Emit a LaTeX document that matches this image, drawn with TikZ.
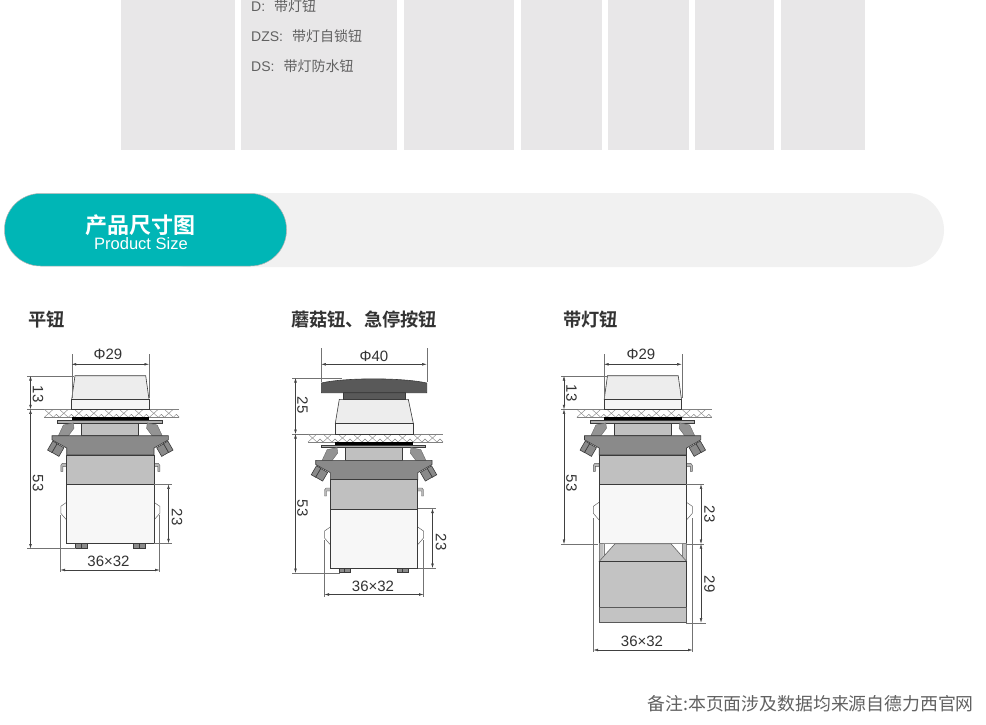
\documentclass[tikz,border=0pt]{standalone}
\usepackage{fontspec}
\setmainfont{Liberation Sans}
\newfontfamily\cjk{Noto Sans CJK SC}
\newfontfamily\cjkb{Noto Sans CJK SC Bold}
\usetikzlibrary{arrows.meta}
\definecolor{panelgrey}{HTML}{E8E7E8}
\definecolor{bandgrey}{HTML}{F1F1F1}
\definecolor{tealpill}{HTML}{00B6B6}
\definecolor{bodygrey}{HTML}{C0C0C0}
\definecolor{collargrey}{HTML}{8A8A8A}
\definecolor{linegrey}{HTML}{3A3A3A}
\tikzset{
  >={Latex[length=4.5pt,width=2.6pt]},
  part/.style={draw=linegrey,line width=0.6pt},
  dimline/.style={<->,line width=0.4pt,draw=black!75},
  extline/.style={line width=0.4pt,draw=black!55},
  dimtext/.style={font=\fontsize{15}{15}\selectfont,text=black!80,inner sep=0pt},
  rowtext/.style={anchor=west,inner sep=0pt,text=black!62,font=\fontsize{14}{14}\selectfont},
  heading/.style={font=\cjkb\fontsize{18.25}{18.25}\selectfont,text=black!80,anchor=west,inner sep=0pt},
  pics/body/.style={code={
    % panel
    \draw[black!50,line width=0.5pt] (-66,0) -- (69,0) (-66,8) -- (69,8);
    \foreach \k in {0,...,8}{
      \draw[black!50,line width=0.4pt] (-66+15*\k,0) -- (-57+15*\k,8) -- (-54+15*\k,5) -- (-51+15*\k,8);
      \draw[black!50,line width=0.4pt] (-66+15*\k,8) -- (-57+15*\k,0);
    }
    % seal and flange
    \fill[black] (-38.6,8) rectangle (38.7,10.8);
    \fill[part,fill=collargrey!70] (-53,10.8) rectangle (51.7,13.6);
    \fill[part,fill=bodygrey] (-28.6,13.6) rectangle (28,26.4);
    % clips and screws
    \foreach \s in {-1,1}{
      \begin{scope}[xscale=\s]
        \fill[collargrey!92,draw=black!60,line width=0.4pt] (52,26.6) -- (46.9,15.7) -- (37,13.6) -- (36.3,19) -- (42,26.6) -- cycle;
        \begin{scope}[shift={(54.5,39.5)},rotate=30]
          \fill[part,fill=collargrey] (-6.5,-5) rectangle (1.5,5);
          \fill[part,fill=collargrey] (1.5,-5.2) rectangle (6.5,5.2);
        \end{scope}
      \end{scope}
    }
    % collar
    \fill[part,fill=collargrey] (-58.3,26.4) -- (58,26.4) -- (58,30.5) -- (43.7,38.7) -- (43.7,45.7)
      -- (-43.6,45.7) -- (-43.6,38.7) -- (-58.3,30.5) -- cycle;
    % hooks
    \foreach \s in {-1,1}{
      \fill[collargrey!60,draw=black!65,line width=0.4pt,xscale=\s] (43.7,54) -- (48,54) -- (49.5,56) -- (49.5,62) -- (47.5,62) -- (47.5,57) -- (43.7,57) -- cycle;
    }
    % tabs
    \foreach \s in {-1,1}{
      \draw[draw=black!60,line width=0.5pt,xscale=\s] (43.7,93) -- (49.5,97) -- (49.5,104) -- (43.7,110.7);
    }
    % case
    \fill[part,fill=bodygrey] (-43.6,45.7) rectangle (43.7,75);
    \fill[part,fill=black!3] (-43.6,75) rectangle (43.7,134);
    % terminals
    \foreach \a in {-35,23}{
      \fill[part,fill=collargrey] (\a,134) rectangle (\a+11.5,138.7);
      \draw[part] (\a+5.5,134) -- (\a+5.5,138.7);
    }
  }},
  pics/capflat/.style={code={
    \fill[part,fill=black!7] (-35.3,-33.6) -- (35.4,-33.6) -- (38.7,-10) -- (-38.6,-10) -- cycle;
    \fill[part,fill=black!4] (-38.6,-10) rectangle (38.7,0);
  }}
}

\begin{document}
\begin{tikzpicture}[x=1pt,y=-1pt]
\useasboundingbox (0,0) rectangle (986,725);
\fill[white] (0,0) rectangle (986,725);

% ---------- Table remains ----------
\foreach \a/\b in {121/235, 241/397, 404/514, 521/602, 608/689, 695/774, 781/865}{
  \fill[panelgrey] (\a,0) rectangle (\b,150);
}
\node[rowtext] (rowd) at (251,6) {D:\hspace{9pt}{\cjk 带灯钮}};
\node[rowtext] (rowdzs) at (251,36) {DZS:\hspace{9pt}{\cjk 带灯自锁钮}};
\node[rowtext] (rowds) at (251,66) {DS:\hspace{9pt}{\cjk 带灯防水钮}};

% ---------- Banner ----------
\fill[bandgrey,rounded corners=37pt] (150,193) rectangle (944,267);
\fill[tealpill,draw=black!30,line width=0.5pt,rounded corners=36pt] (4.5,193.5) rectangle (286.5,266);
\node[text=white,inner sep=0pt,font=\cjkb\fontsize{22}{22}\selectfont] (bannercn) at (140,225) {产品尺寸图};
\node[text=white,inner sep=0pt,font=\fontsize{16.5}{16.5}\selectfont] (banneren) at (141,244) {Product Size};

% ---------- Headings ----------
\node[heading] (headflat) at (28,320) {平钮};
\node[heading] (headstop) at (291,320) {蘑菇钮、急停按钮};
\node[heading] (headlamp) at (563,320) {带灯钮};

% ---------- Flat button ----------
\pic at (110.3,409.3) {body};
\pic at (110.3,409.3) {capflat};
\draw[extline] (71.7,354) -- (71.7,398) (149,354) -- (149,398);
\draw[dimline] (71.7,364.3) -- (149,364.3);
\node[dimtext] (flatdia) at (108,354) {Φ29};
\draw[extline] (27,376) -- (74,376) (27,409.3) -- (44,409.3);
\draw[extline] (27,548.5) -- (76,548.5) (154,484.3) -- (172,484.3) (154,543.3) -- (172,543.3);
\draw[dimline] (30.5,376) -- (30.5,409.3);
\draw[dimline] (30.5,409.3) -- (30.5,548.5);
\node[dimtext,rotate=-90] (flatcap) at (38,394) {13};
\node[dimtext,rotate=-90] (flatbody) at (38,483) {53};
\draw[dimline] (168.5,484.3) -- (168.5,543.3);
\node[dimtext,rotate=-90] (flatwhite) at (177,517) {23};
\draw[extline] (60.5,515) -- (60.5,572) (159.5,515) -- (159.5,572);
\draw[dimline] (60.5,570) -- (159.5,570);
\node[dimtext] (flatsize) at (108.5,561) {36×32};

% ---------- Mushroom button ----------
\pic at (374,434) {body};
\fill[part,fill=black!7] (339.3,399.3) -- (408.3,399.3) -- (413.3,423.3) -- (335.3,423.3) -- cycle;
\fill[part,fill=black!4] (335.3,423.3) rectangle (413.3,434);
\fill[part,fill=black!65] (343.3,392.7) rectangle (405,399.3);
\fill[part,fill=black!65] (321.3,392.7) -- (321.3,383) .. controls (345,377.5) and (402,377.5) .. (426.7,383) -- (426.7,392.7) -- cycle;
\draw[extline] (321.3,348) -- (321.3,382) (426.7,348) -- (426.7,382);
\draw[dimline] (321.3,364.3) -- (426.7,364.3);
\node[dimtext] (stopdia) at (374,356) {Φ40};
\draw[extline] (292,378) -- (342,378) (292,434) -- (308,434);
\draw[extline] (292,573) -- (340,573) (418,508.5) -- (436,508.5) (418,568) -- (436,568);
\draw[dimline] (295.5,378) -- (295.5,434);
\draw[dimline] (295.5,434) -- (295.5,573);
\node[dimtext,rotate=-90] (stopcap) at (302.5,405) {25};
\node[dimtext,rotate=-90] (stopbody) at (302.5,508) {53};
\draw[dimline] (432.5,508.5) -- (432.5,568);
\node[dimtext,rotate=-90] (stopwhite) at (441,542) {23};
\draw[extline] (324.5,540) -- (324.5,597) (423.5,540) -- (423.5,597);
\draw[dimline] (324.5,594.5) -- (423.5,594.5);
\node[dimtext] (stopsize) at (373,586) {36×32};

% ---------- Lamp button ----------
\pic at (642.8,409.3) {body};
\pic at (642.8,409.3) {capflat};
% lamp housing
\fill[part,draw=black!50,fill=bodygrey] (599.3,543.3) rectangle (686.5,561.3);
\fill[white] (603.7,543.8) -- (615,543.8) -- (603.7,556.7) -- cycle;
\fill[white] (682.3,543.8) -- (671,543.8) -- (682.3,556.7) -- cycle;
\draw[draw=black!50,line width=0.4pt] (603.7,543.8) -- (603.7,556.7) (682.3,543.8) -- (682.3,556.7);
\fill[part,draw=black!60,fill=bodygrey!95] (599.3,561.3) -- (615,543.8) -- (671,543.8) -- (686.5,561.3) -- cycle;
\fill[part,fill=bodygrey!95] (599.3,561.3) rectangle (686.5,607.3);
\fill[part,draw=black!65,fill=bodygrey!95] (599.3,607.3) rectangle (686.5,622.5);
\draw[extline] (604,354) -- (604,398) (681.7,354) -- (681.7,398);
\draw[dimline] (604,364.3) -- (681.7,364.3);
\node[dimtext] (lampdia) at (641,354) {Φ29};
\draw[extline] (561,376) -- (607,376) (561,409.3) -- (578,409.3);
\draw[extline] (561,544) -- (598,544) (686,484.3) -- (704,484.3) (686,544) -- (704,544) (686,622.7) -- (706,622.7);
\draw[dimline] (564,376) -- (564,409.3);
\draw[dimline] (564,409.3) -- (564,544);
\node[dimtext,rotate=-90] (lampcap) at (571.5,393) {13};
\node[dimtext,rotate=-90] (lampbody) at (571.5,483) {53};
\draw[dimline] (701,484.3) -- (701,544);
\node[dimtext,rotate=-90] (lampwhite) at (709.5,514) {23};
\draw[dimline] (701,544) -- (701,622.7);
\node[dimtext,rotate=-90] (lamphouse) at (709.5,584) {29};
\draw[extline] (593.5,518) -- (593.5,652) (692.5,518) -- (692.5,652);
\draw[dimline] (593.5,650) -- (692.5,650);
\node[dimtext] (lampsize) at (642,641) {36×32};

% ---------- Footnote ----------
\node[anchor=east,inner sep=0pt,text=black!62,font=\cjk\fontsize{17.85}{17.85}\selectfont] (footnote) at (974,704) {备注:本页面涉及数据均来源自德力西官网};

\end{tikzpicture}
\end{document}
